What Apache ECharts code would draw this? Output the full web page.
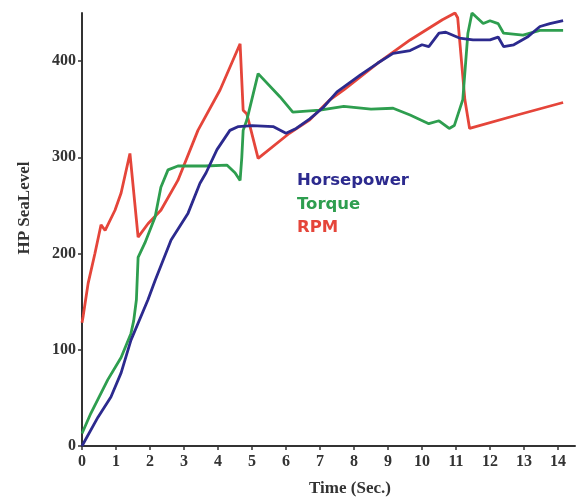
<!DOCTYPE html>
<html>
<head>
<meta charset="utf-8">
<script src="https://cdn.jsdelivr.net/npm/echarts@6/dist/echarts.min.js"></script>
<style>html,body{margin:0;padding:0;background:#fff}#c{width:586px;height:501px}</style>
</head>
<body>
<div id="c"></div>
<script>
var xTicks = [0,1,2,3,4,5,6,7,8,9,10,11,12,13,14];
var yTicks = [0,100,200,300,400];
var seriesNames = ['Horsepower','Torque','RPM'];
var horsepower = [[0,0],[0.47,30],[0.85,51],[1.15,76],[1.44,110],[1.94,152],[2.15,172],[2.62,214],[3.12,242],[3.47,273],[3.65,284],[3.97,308],[4.35,328],[4.6,332],[5.0,333],[5.62,332],[6.0,325],[6.3,330],[6.7,340],[7.1,352],[7.5,368],[8.2,386],[8.7,398],[9.15,408],[9.65,411],[10.0,417],[10.2,415],[10.5,429],[10.7,430],[11.1,424],[11.5,422],[12.0,422],[12.24,425],[12.4,415],[12.7,417],[13.1,425],[13.47,436],[13.76,439],[14.15,442]];
var torque = [[0,13],[0.26,34],[0.76,69],[1.15,92],[1.44,117],[1.52,130],[1.6,152],[1.65,196],[1.85,211],[2.15,238],[2.32,269],[2.53,287],[2.82,291],[3.62,291],[4.26,292],[4.5,284],[4.65,276],[4.7,300],[4.74,328],[4.85,339],[5.18,387],[5.82,363],[6.2,347],[7.0,349],[7.7,353],[8.5,350],[9.15,351],[9.65,344],[10.2,335],[10.5,338],[10.8,330],[10.95,333],[11.2,360],[11.35,429],[11.47,450],[11.8,439],[12.0,442],[12.24,439],[12.4,429],[12.97,427],[13.47,432],[14.15,432]];
var rpm = [[0,128],[0.03,134],[0.18,169],[0.38,200],[0.56,230],[0.68,224],[0.97,245],[1.15,263],[1.41,304],[1.65,217],[1.94,231],[2.32,245],[2.82,276],[3.41,328],[4.06,370],[4.65,418],[4.74,349],[4.85,345],[5.18,299],[6.1,325],[6.7,339],[7.3,360],[7.7,370],[8.7,398],[9.65,422],[10.6,443],[10.97,450],[11.05,445],[11.26,360],[11.4,330],[12.8,344],[14.15,357]];
var colors = ['#2c2a8e','#2e9e4f','#e5453a'];

var chart = echarts.init(document.getElementById('c'));
var serif = '"Liberation Serif","DejaVu Serif",serif';
var axisCommon = {
  axisLine:{show:true,lineStyle:{color:'#333',width:2}},
  axisTick:{show:true,length:4,lineStyle:{color:'#333',width:1.5}},
  splitLine:{show:false},
  axisLabel:{fontFamily:serif,fontWeight:'bold',fontSize:16,color:'#333'}
};
function mk(i,data){
  return {name:seriesNames[i],type:'line',data:data,showSymbol:false,symbol:'none',
    lineStyle:{color:colors[i],width:2.8},itemStyle:{color:colors[i]},z:3-i+2,animation:false};
}
chart.setOption({
  backgroundColor:'#fff',
  animation:false,
  grid:{left:82,right:11,top:13,bottom:55,containLabel:false},
  xAxis:Object.assign({},axisCommon,{type:'value',min:0,max:14.5,interval:1,
    axisLabel:Object.assign({},axisCommon.axisLabel,{margin:8,showMaxLabel:false,
      formatter:function(v){return xTicks.indexOf(v)>=0?String(v):'';}})}),
  yAxis:Object.assign({},axisCommon,{type:'value',min:0,max:450,interval:100,
    axisLabel:Object.assign({},axisCommon.axisLabel,{margin:6,showMaxLabel:false,
      formatter:function(v){return yTicks.indexOf(v)>=0?String(v):'';}})}),
  series:[mk(2,rpm),mk(1,torque),mk(0,horsepower)],
  graphic:[
    {type:'text',style:{text:'Time (Sec.)',x:350,y:489,align:'center',verticalAlign:'middle',font:'bold 17px '+serif,fill:'#333'}},
    {type:'text',x:25,y:208,rotation:Math.PI/2,style:{text:'HP SeaLevel',align:'center',verticalAlign:'middle',font:'bold 17px '+serif,fill:'#333'}},
    {type:'text',style:{text:seriesNames[0],x:297,y:181,verticalAlign:'middle',font:'bold 16.5px "DejaVu Sans",sans-serif',fill:colors[0]}},
    {type:'text',style:{text:seriesNames[1],x:297,y:205,verticalAlign:'middle',font:'bold 16.5px "DejaVu Sans",sans-serif',fill:colors[1]}},
    {type:'text',style:{text:seriesNames[2],x:297,y:228,verticalAlign:'middle',font:'bold 16.5px "DejaVu Sans",sans-serif',fill:colors[2]}}
  ]
});
</script>
</body>
</html>
